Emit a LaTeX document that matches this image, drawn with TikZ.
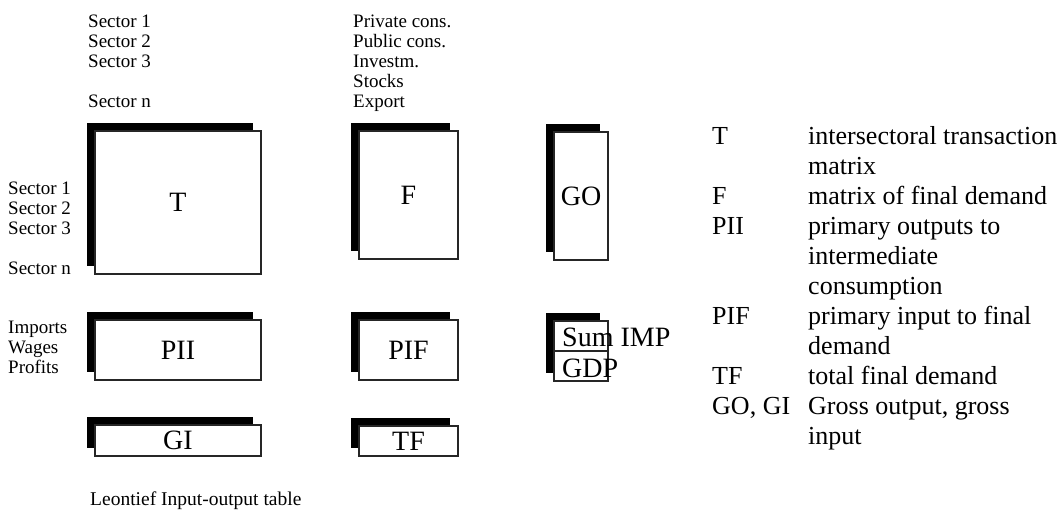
\documentclass[tikz,border=0pt]{standalone}
\usepackage{fontspec}
\setmainfont{Liberation Serif}
\usetikzlibrary{shadows}
\begin{document}
\begin{tikzpicture}[x=1pt,y=-1pt,
  mbox/.style={draw=black!85, line width=1.1pt, fill=white, inner sep=0pt,
    general shadow={fill=black, shadow xshift=-8.5pt, shadow yshift=8.5pt},
    font=\fontsize{28}{30}\selectfont},
  small/.style={anchor=base west, inner sep=0pt, font=\fontsize{19}{20}\selectfont},
  leg/.style={anchor=base west, inner sep=0pt, font=\fontsize{26}{30}\selectfont},
  big/.style={anchor=base west, inner sep=0pt, font=\fontsize{28}{30}\selectfont}]
\useasboundingbox (0,0) rectangle (1062,512);
% boxes
\node[mbox, minimum width=166pt, minimum height=143pt] (T) at (178,202.5) {T};
\node[mbox, minimum width=99pt, minimum height=128pt] (F) at (408.5,195) {F};
\node[mbox, minimum width=54pt, minimum height=128pt] (GO) at (581,196) {GO};
\node[mbox, minimum width=166pt, minimum height=60pt] (PII) at (178,350) {PII};
\node[mbox, minimum width=99pt, minimum height=60pt] (PIF) at (408.5,350) {PIF};
\node[mbox, minimum width=54pt, minimum height=60pt] (SG) at (581,351) {};
\draw[draw=black!85, line width=1.1pt] (SG.west) -- (SG.east);
\node[big] (sumimp) at (562,346) {Sum IMP};
\node[big] (gdp) at (562,377) {GDP};
\node[mbox, minimum width=166pt, minimum height=31pt] (GI) at (178,440.5) {GI};
\node[mbox, minimum width=99pt, minimum height=30pt] (TF) at (408.5,441) {TF};
% top sector labels
\node[small] (ts1) at (88,27) {Sector 1};
\node[small] (ts2) at (88,47) {Sector 2};
\node[small] (ts3) at (88,67) {Sector 3};
\node[small] (tsn) at (88,107) {Sector n};
% final demand labels
\node[small] (fd1) at (353,27) {Private cons.};
\node[small] (fd2) at (353,47) {Public cons.};
\node[small] (fd3) at (353,67) {Investm.};
\node[small] (fd4) at (353,87) {Stocks};
\node[small] (fd5) at (353,107) {Export};
% left sector labels
\node[small] (ls1) at (8,194) {Sector 1};
\node[small] (ls2) at (8,214) {Sector 2};
\node[small] (ls3) at (8,234) {Sector 3};
\node[small] (lsn) at (8,274) {Sector n};
% primary inputs
\node[small] (pi1) at (8,333) {Imports};
\node[small] (pi2) at (8,353) {Wages};
\node[small] (pi3) at (8,373) {Profits};
% caption
\node[small, font=\fontsize{19.5}{20}\selectfont] (cap) at (90,505) {Leontief Input-output table};
% legend
\node[leg] (k1) at (712,144) {T};
\node[leg] (k2) at (712,204) {F};
\node[leg] (k3) at (712,234) {PII};
\node[leg] (k4) at (712,324) {PIF};
\node[leg] (k5) at (712,384) {TF};
\node[leg] (k6) at (712,414) {GO, GI};
\node[leg] (d0) at (808,144) {intersectoral transaction};
\node[leg] (d1) at (808,174) {matrix};
\node[leg] (d2) at (808,204) {matrix of final demand};
\node[leg] (d3) at (808,234) {primary outputs to};
\node[leg] (d4) at (808,264) {intermediate};
\node[leg] (d5) at (808,294) {consumption};
\node[leg] (d6) at (808,324) {primary input to final};
\node[leg] (d7) at (808,354) {demand};
\node[leg] (d8) at (808,384) {total final demand};
\node[leg] (d9) at (808,414) {Gross output, gross};
\node[leg] (d10) at (808,444) {input};
\end{tikzpicture}
\end{document}
